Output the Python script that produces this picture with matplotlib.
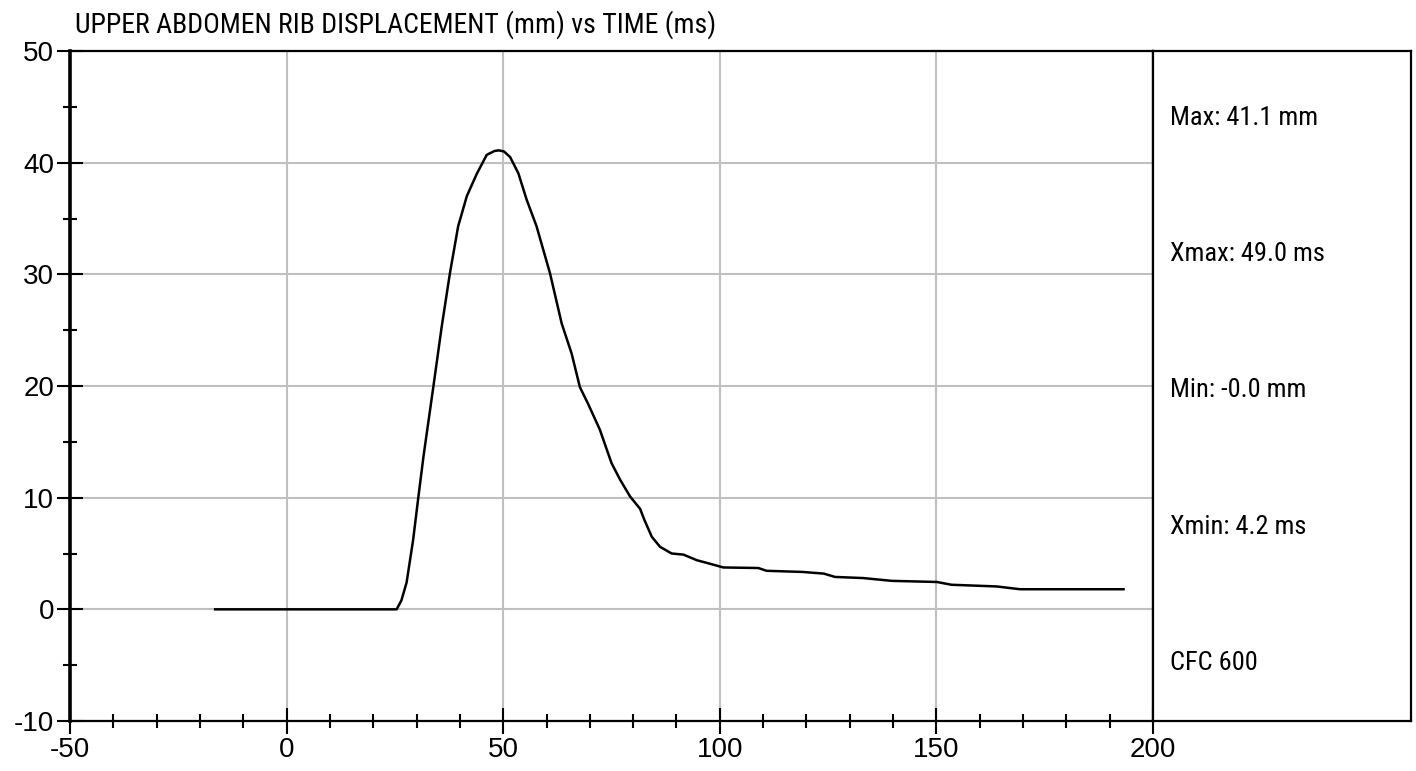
import numpy as np
import matplotlib
matplotlib.use('Agg')
import matplotlib.pyplot as plt
from matplotlib.ticker import MultipleLocator

# time (ms) and upper abdomen rib displacement (mm)
time_ms = [-16.5, 25.4, 26.5, 27.7, 29.2, 30.4, 31.6, 33.9, 35.8, 37.7, 39.6,
           41.6, 43.9, 46.2, 48.0, 49.0, 50.2, 51.6, 53.5, 55.4, 57.7, 60.8,
           63.5, 65.8, 67.7, 69.6, 72.3, 75.0, 77.0, 79.3, 81.6, 82.6, 84.3,
           86.2, 88.9, 91.6, 94.7, 98.5, 100.8, 108.9, 110.8, 119.0, 124.0,
           126.6, 133.1, 139.7, 150.1, 153.5, 163.9, 169.3, 193.2]
disp_mm = [0.0, 0.0, 0.8, 2.4, 6.2, 10.0, 13.7, 20.0, 25.3, 30.1, 34.3,
           37.0, 39.0, 40.7, 41.05, 41.1, 41.0, 40.5, 39.05, 36.7, 34.3, 30.1,
           25.6, 22.9, 19.9, 18.4, 16.1, 13.1, 11.6, 10.1, 9.0, 8.0, 6.5,
           5.6, 5.0, 4.9, 4.4, 4.0, 3.75, 3.7, 3.45, 3.35, 3.2,
           2.9, 2.8, 2.55, 2.45, 2.2, 2.05, 1.8, 1.8]

title = 'UPPER ABDOMEN RIB DISPLACEMENT (mm) vs TIME (ms)'
stats = ['Max: 41.1 mm', 'Xmax: 49.0 ms', 'Min: -0.0 mm', 'Xmin: 4.2 ms', 'CFC 600']
stat_pos = [0.9, 0.697, 0.494, 0.29, 0.087]

narrow = ['Roboto Condensed', 'Archivo Narrow', 'Liberation Sans', 'DejaVu Sans']
plt.rcParams['font.family'] = ['Liberation Sans', 'DejaVu Sans']
plt.rcParams['axes.unicode_minus'] = False

W, H = 1416, 771
fig = plt.figure(figsize=(W / 100, H / 100), dpi=100)
x0, x1, x2 = 70 / W, 1153 / W, 1411 / W
y0, y1 = 1 - 721 / H, 1 - 51 / H
ax = fig.add_axes([x0, y0, x1 - x0, y1 - y0])
pan = fig.add_axes([x1, y0, x2 - x1, y1 - y0])

ax.plot(time_ms, disp_mm, color='black', lw=1.8, zorder=3)
ax.set_xlim(-50, 200)
ax.set_ylim(-10, 50)
ax.xaxis.set_major_locator(MultipleLocator(50))
ax.xaxis.set_minor_locator(MultipleLocator(10))
ax.yaxis.set_major_locator(MultipleLocator(10))
ax.yaxis.set_minor_locator(MultipleLocator(5))
ax.grid(True, which='major', color='#c0c0c0', lw=1.5, zorder=0)
ax.tick_params(which='major', direction='inout', length=19, width=1.5,
               labelsize=20, color='black')
ax.tick_params(which='minor', direction='inout', length=10, width=1.5)
ax.tick_params(axis='x', which='major', pad=2)
ax.tick_params(axis='y', which='major', pad=2)
for s in ['top', 'right', 'bottom']:
    ax.spines[s].set_linewidth(1.6)
ax.spines['left'].set_linewidth(2.6)
ax.text(77 / W - x0, 1.0 + 18 / 670, title, transform=ax.transAxes,
        fontsize=20, family=narrow, ha='left', va='baseline')

pan.set_xticks([])
pan.set_yticks([])
for s in pan.spines.values():
    s.set_linewidth(1.6)
for (lab, yp) in zip(stats, stat_pos):
    pan.text(0.066, yp, lab, transform=pan.transAxes, fontsize=19,
             family=narrow, ha='left', va='center')

fig.savefig('out.png', dpi=100)
